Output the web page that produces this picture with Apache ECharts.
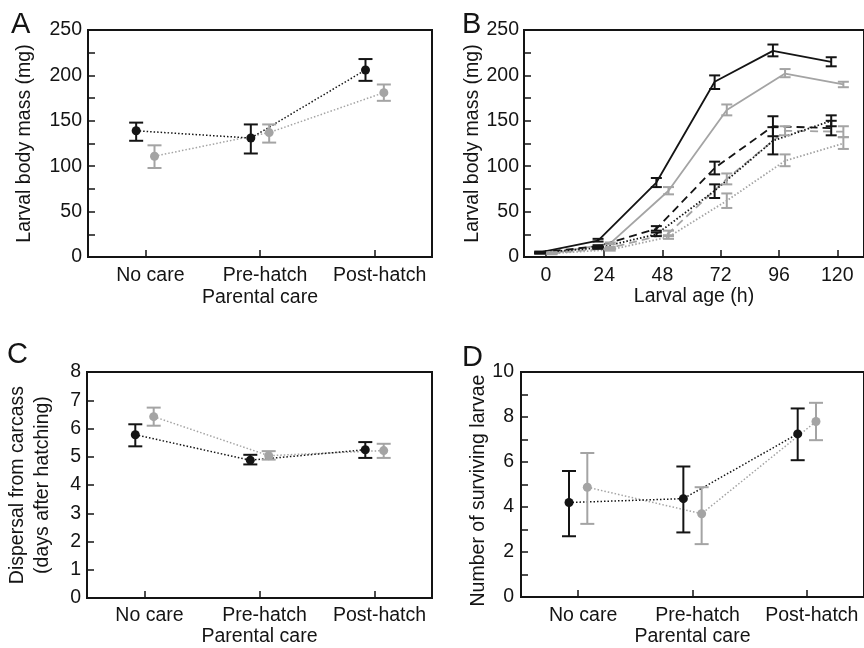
<!DOCTYPE html>
<html>
<head>
<meta charset="utf-8">
<script src="https://cdn.jsdelivr.net/npm/echarts@6/dist/echarts.min.js"></script>
<style>
html,body{margin:0;padding:0;background:#fff;}
#chart{width:864px;height:648px;}
</style>
</head>
<body>
<div id="chart"></div>
<script>
// ---------- DATA ----------
const careCats = ['No care', 'Pre-hatch', 'Post-hatch'];

// Panel A: larval body mass (mg)
const massBlackMean = [139, 131, 206];
const massBlackLo   = [128, 114, 194];
const massBlackHi   = [148, 146, 218];
const massGrayMean  = [111, 137, 181];
const massGrayLo    = [98, 126, 172];
const massGrayHi    = [123, 146, 190];

// Panel B: growth over larval age (h)
const ages = [0, 24, 48, 72, 96, 120];
const bBlackSolidMean  = [5, 18, 82, 193, 227, 215];
const bBlackSolidLo    = [4, 17, 77, 185, 221, 210];
const bBlackSolidHi    = [6, 20, 87, 200, 234, 220];
const bGraySolidMean   = [4, 15, 73, 162, 202, 190];
const bGraySolidLo     = [4, 14, 69, 156, 198, 187];
const bGraySolidHi     = [5, 16, 77, 168, 207, 193];
const bBlackDashedMean = [5, 12, 31, 98, 144, 142];
const bBlackDashedLo   = [4, 11, 29, 91, 133, 134];
const bBlackDashedHi   = [5, 13, 34, 105, 155, 150];
const bGrayDashedMean  = [4, 10, 26, 86, 139, 138];
const bGrayDashedLo    = [4, 9, 23, 80, 134, 132];
const bGrayDashedHi    = [5, 11, 29, 92, 144, 144];
const bBlackDottedMean = [5, 10, 25, 73, 128, 150];
const bBlackDottedLo   = [4, 9, 23, 65, 113, 144];
const bBlackDottedHi   = [5, 11, 27, 80, 143, 156];
const bGrayDottedMean  = [4, 8, 22, 62, 106, 125];
const bGrayDottedLo    = [3, 7, 20, 54, 100, 119];
const bGrayDottedHi    = [4, 9, 24, 70, 113, 132];

// Panel C: dispersal from carcass (days after hatching)
const dispBlackMean = [5.78, 4.88, 5.25];
const dispBlackLo   = [5.37, 4.73, 4.96];
const dispBlackHi   = [6.15, 5.07, 5.52];
const dispGrayMean  = [6.42, 5.04, 5.22];
const dispGrayLo    = [6.10, 4.90, 4.96];
const dispGrayHi    = [6.74, 5.20, 5.46];

// Panel D: number of surviving larvae
const survBlackMean = [4.20, 4.37, 7.25];
const survBlackLo   = [2.70, 2.87, 6.08];
const survBlackHi   = [5.60, 5.80, 8.38];
const survGrayMean  = [4.88, 3.70, 7.80];
const survGrayLo    = [3.25, 2.35, 6.97];
const survGrayHi    = [6.40, 4.88, 8.63];

// ---------- STYLE ----------
const FONT = "'Liberation Sans', Arial, Helvetica, sans-serif";
const BLACK = '#141414';
const GRAY = '#a4a4a4';
const FS = 19.5;
const catOffset = 0.08;   // horizontal dodge for category panels
const ageOffset = 2.5;    // horizontal dodge (h) for panel B

const chart = echarts.init(document.getElementById('chart'), null, {renderer: 'canvas'});

function errSeries(g, xs, lo, hi, color, capW, z) {
  return {
    type: 'custom', xAxisIndex: g, yAxisIndex: g, z: z, silent: true,
    data: xs.map((x, i) => [x, lo[i], hi[i]]),
    encode: {x: 0, y: [1, 2]},
    renderItem: function (params, api) {
      const x = api.value(0);
      const pLo = api.coord([x, api.value(1)]);
      const pHi = api.coord([x, api.value(2)]);
      const h = capW / 2;
      const st = {stroke: color, lineWidth: 2, fill: null};
      return {type: 'group', children: [
        {type: 'line', shape: {x1: pLo[0], y1: pLo[1], x2: pHi[0], y2: pHi[1]}, style: st},
        {type: 'line', shape: {x1: pLo[0] - h, y1: pLo[1], x2: pLo[0] + h, y2: pLo[1]}, style: st},
        {type: 'line', shape: {x1: pHi[0] - h, y1: pHi[1], x2: pHi[0] + h, y2: pHi[1]}, style: st}
      ]};
    }
  };
}

function meanSeries(g, xs, ys, color, lineType, lineW, symSize, z) {
  return {
    type: 'line', xAxisIndex: g, yAxisIndex: g, z: z, silent: true,
    data: xs.map((x, i) => [x, ys[i]]),
    symbol: symSize ? 'circle' : 'none', symbolSize: symSize || 0,
    itemStyle: {color: color, borderWidth: 0},
    lineStyle: {color: color, width: lineW, type: lineType},
    animation: false
  };
}

function catXAxis(g, nameGap, margin) {
  return {
    type: 'value', gridIndex: g, min: -0.5, max: 2.5,
    name: 'Parental care', nameLocation: 'middle', nameGap: nameGap,
    nameTextStyle: {fontFamily: FONT, fontSize: FS, color: BLACK},
    axisLine: {show: true, onZero: false, lineStyle: {color: BLACK, width: 2}},
    axisTick: {show: true, inside: true, length: 7, customValues: [0, 1, 2], lineStyle: {color: BLACK, width: 1.5}},
    axisLabel: {show: true, customValues: [0, 1, 2], margin: margin, fontFamily: FONT, fontSize: FS, color: BLACK,
      padding: [0, 0, 0, 10],
      formatter: v => careCats[Math.round(v)]},
    splitLine: {show: false}
  };
}

function yAx(g, min, max, interval, labelEvery, name, nameGap, margin, extra) {
  return Object.assign({
    type: 'value', gridIndex: g, min: min, max: max, interval: interval,
    name: name, nameLocation: 'middle', nameGap: nameGap,
    nameTextStyle: {fontFamily: FONT, fontSize: FS, color: BLACK},
    axisLine: {show: true, onZero: false, lineStyle: {color: BLACK, width: 2}},
    axisTick: {show: true, inside: true, length: 7, lineStyle: {color: BLACK, width: 1.5}},
    axisLabel: {margin: margin, fontFamily: FONT, fontSize: FS, color: BLACK,
      formatter: v => (Math.round(v / interval) % labelEvery === 0 ? String(v) : '')},
    splitLine: {show: false}
  }, extra || {});
}

const idx = [0, 1, 2];
const xb = idx.map(i => i - catOffset);
const xg = idx.map(i => i + catOffset);
const ab = ages.map(a => a - ageOffset);
const ag = ages.map(a => a + ageOffset);

const series = [
  // A
  meanSeries(0, xg, massGrayMean, GRAY, [1.5, 2], 1.5, 0, 2),
  meanSeries(0, xb, massBlackMean, BLACK, [1.5, 2], 1.5, 0, 3),
  errSeries(0, xg, massGrayLo, massGrayHi, GRAY, 14, 4),
  errSeries(0, xb, massBlackLo, massBlackHi, BLACK, 14, 5),
  meanSeries(0, xg, massGrayMean, GRAY, 'solid', 0, 9, 6),
  meanSeries(0, xb, massBlackMean, BLACK, 'solid', 0, 9, 7),
  // B
  meanSeries(1, ag, bGraySolidMean, GRAY, 'solid', 1.8, 0, 2),
  meanSeries(1, ag, bGrayDashedMean, GRAY, [8, 5], 1.8, 0, 2),
  meanSeries(1, ag, bGrayDottedMean, GRAY, [1.5, 2], 1.8, 0, 2),
  meanSeries(1, ab, bBlackSolidMean, BLACK, 'solid', 1.8, 0, 3),
  meanSeries(1, ab, bBlackDashedMean, BLACK, [8, 5], 1.8, 0, 3),
  meanSeries(1, ab, bBlackDottedMean, BLACK, [1.5, 2], 1.8, 0, 3),
  errSeries(1, ag, bGraySolidLo, bGraySolidHi, GRAY, 11, 4),
  errSeries(1, ag, bGrayDashedLo, bGrayDashedHi, GRAY, 11, 4),
  errSeries(1, ag, bGrayDottedLo, bGrayDottedHi, GRAY, 11, 4),
  errSeries(1, ab, bBlackSolidLo, bBlackSolidHi, BLACK, 11, 5),
  errSeries(1, ab, bBlackDashedLo, bBlackDashedHi, BLACK, 11, 5),
  errSeries(1, ab, bBlackDottedLo, bBlackDottedHi, BLACK, 11, 5),
  // C
  meanSeries(2, xg, dispGrayMean, GRAY, [1.5, 2], 1.5, 0, 2),
  meanSeries(2, xb, dispBlackMean, BLACK, [1.5, 2], 1.5, 0, 3),
  errSeries(2, xg, dispGrayLo, dispGrayHi, GRAY, 14, 4),
  errSeries(2, xb, dispBlackLo, dispBlackHi, BLACK, 14, 5),
  meanSeries(2, xg, dispGrayMean, GRAY, 'solid', 0, 9, 6),
  meanSeries(2, xb, dispBlackMean, BLACK, 'solid', 0, 9, 7),
  // D
  meanSeries(3, xg, survGrayMean, GRAY, [1.5, 2], 1.5, 0, 2),
  meanSeries(3, xb, survBlackMean, BLACK, [1.5, 2], 1.5, 0, 3),
  errSeries(3, xg, survGrayLo, survGrayHi, GRAY, 14, 4),
  errSeries(3, xb, survBlackLo, survBlackHi, BLACK, 14, 5),
  meanSeries(3, xg, survGrayMean, GRAY, 'solid', 0, 9, 6),
  meanSeries(3, xb, survBlackMean, BLACK, 'solid', 0, 9, 7)
];

const gridBase = {show: true, borderColor: BLACK, borderWidth: 2, backgroundColor: 'transparent', containLabel: false};

const letterStyle = (t, x, y) => ({
  type: 'text', left: x, top: y, silent: true,
  style: {text: t, fontFamily: FONT, fontSize: 29, fill: BLACK}
});

const option = {
  animation: false,
  backgroundColor: '#fff',
  grid: [
    Object.assign({left: 88, top: 30, width: 344, height: 227}, gridBase),
    Object.assign({left: 524, top: 30, width: 348, height: 227}, gridBase),
    Object.assign({left: 87, top: 372, width: 345, height: 227}, gridBase),
    Object.assign({left: 521, top: 372, width: 346, height: 227}, gridBase)
  ],
  xAxis: [
    catXAxis(0, 31, 9),
    {
      type: 'value', gridIndex: 1, min: -9, max: 131,
      name: 'Larval age (h)', nameLocation: 'middle', nameGap: 30,
      nameTextStyle: {fontFamily: FONT, fontSize: FS, color: BLACK},
      axisLine: {show: true, onZero: false, lineStyle: {color: BLACK, width: 2}},
      axisTick: {show: true, inside: true, length: 7, customValues: ages, lineStyle: {color: BLACK, width: 1.5}},
      axisLabel: {show: true, customValues: ages, margin: 9, fontFamily: FONT, fontSize: FS, color: BLACK},
      splitLine: {show: false}
    },
    catXAxis(2, 25, 8),
    catXAxis(3, 30, 9)
  ],
  yAxis: [
    yAx(0, 0, 250, 25, 2, 'Larval body mass (mg)', 53, 6),
    yAx(1, 0, 250, 25, 2, 'Larval body mass (mg)', 40, 5),
    yAx(2, 0, 8, 1, 1, 'Dispersal from carcass\n(days after hatching)', 32, 6,
      {nameTextStyle: {fontFamily: FONT, fontSize: FS, color: BLACK, lineHeight: 25}}),
    yAx(3, 0, 10, 1, 2, 'Number of surviving larvae', 32, 7,
      {nameTextStyle: {fontFamily: FONT, fontSize: FS, color: BLACK, padding: [0, 12, 0, 0]}})
  ],
  graphic: [
    letterStyle('A', 11, 10),
    letterStyle('B', 462, 10),
    letterStyle('C', 7, 340),
    letterStyle('D', 462, 343)
  ],
  series: series
};

chart.setOption(option);
</script>
</body>
</html>
